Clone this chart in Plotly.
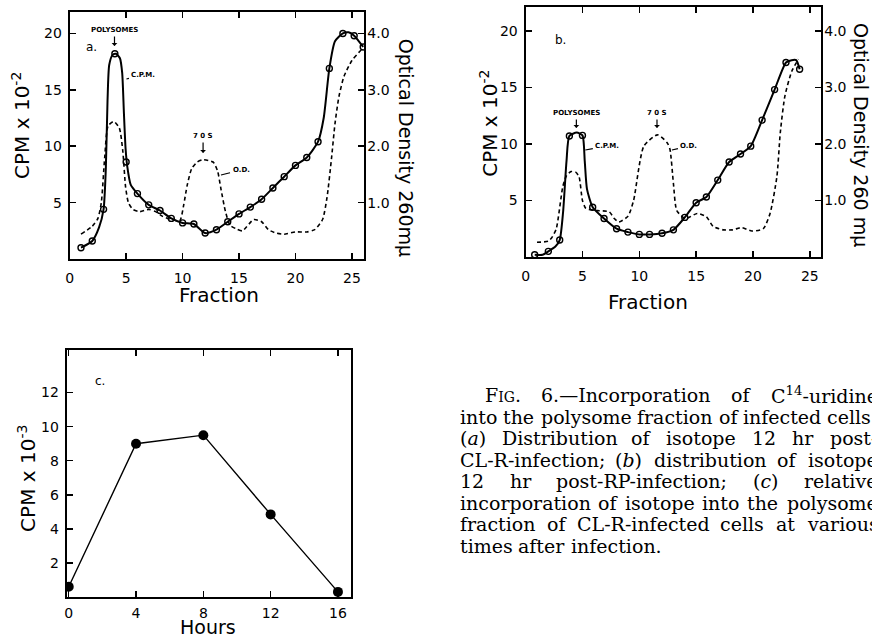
import plotly.graph_objects as go

W, H = 872, 636

# ---------------- data ----------------
# Panel a: CPM (x 10^-2) at fractions (markers)
frac_a = [1, 2, 3, 4, 5, 6, 7, 8, 9, 10, 11, 12, 13, 14, 15, 16, 17, 18, 19, 20, 21, 22, 23, 24.2, 25.2, 26]
cpm_a = [1.0, 1.6, 4.4, 18.2, 8.6, 5.8, 4.8, 4.3, 3.6, 3.2, 3.1, 2.3, 2.6, 3.3, 4.0, 4.6, 5.3, 6.3, 7.3, 8.3, 9.0, 10.4, 16.9, 20.0, 19.8, 18.8]
# Panel a: hand-drawn CPM curve
curve_a_x = [1, 2, 2.6, 3, 3.2, 3.35, 3.5, 3.8, 4.1, 4.45, 4.65, 4.8, 4.95, 5.1, 5.4, 6, 7, 8, 9, 10, 11, 12, 13, 14, 15, 16, 17, 18, 19, 20, 21, 22, 22.5, 23, 23.5, 24.2, 24.7, 25.2, 26]
curve_a_y = [1.0, 1.6, 2.8, 4.4, 8.0, 14.0, 17.2, 18.1, 18.2, 17.8, 16.5, 13.0, 9.8, 8.2, 6.6, 5.8, 4.8, 4.3, 3.6, 3.2, 3.1, 2.3, 2.6, 3.3, 4.0, 4.6, 5.3, 6.3, 7.3, 8.3, 9.0, 10.4, 12.5, 16.9, 19.3, 20.0, 20.1, 19.8, 18.8]
# Panel a: optical density (260 mu)
od_a_x = [1, 2, 2.5, 2.8, 3.1, 3.4, 3.9, 4.4, 4.7, 4.95, 5.2, 5.6, 6.2, 7.0, 7.6, 8.2, 9.0, 9.75, 10.1, 10.4, 10.8, 11.3, 11.8, 12.7, 13.1, 13.4, 13.8, 14.2, 14.7, 15.3, 16.3, 17.0, 17.6, 18.3, 19.0, 20.0, 21.0, 21.7, 22.4, 22.8, 23.2, 23.5, 23.85, 24.3, 25.0, 25.6, 26.0]
od_a = [0.44, 0.58, 0.72, 1.00, 1.80, 2.36, 2.44, 2.32, 1.92, 1.28, 1.00, 0.88, 0.84, 0.88, 0.84, 0.76, 0.70, 0.68, 0.96, 1.30, 1.60, 1.72, 1.76, 1.72, 1.56, 1.24, 0.84, 0.60, 0.54, 0.50, 0.70, 0.66, 0.52, 0.46, 0.44, 0.48, 0.48, 0.52, 0.70, 1.10, 1.80, 2.40, 2.88, 3.24, 3.52, 3.66, 3.74]

# Panel b
frac_b = [0.8, 2, 3, 3.85, 5, 5.9, 6.9, 8, 9, 10, 10.9, 12, 13, 14, 15, 15.9, 16.9, 17.9, 18.9, 19.8, 20.8, 21.9, 22.9, 24.1]
cpm_b = [0.2, 0.5, 1.5, 10.7, 10.75, 4.4, 3.4, 2.5, 2.2, 2.0, 2.0, 2.1, 2.4, 3.5, 4.8, 5.3, 6.8, 8.4, 9.1, 9.8, 12.1, 14.8, 17.2, 16.6]
curve_b_x = [0.8, 1.5, 2, 2.6, 3, 3.3, 3.6, 3.85, 4.5, 5, 5.2, 5.4, 5.9, 6.9, 8, 9, 10, 10.9, 12, 13, 14, 15, 15.9, 16.9, 17.9, 18.9, 19.8, 20.8, 21.9, 22.9, 23.4, 23.8, 24.1]
curve_b_y = [0.2, 0.2, 0.5, 0.9, 1.5, 4.0, 8.5, 10.7, 11.0, 10.75, 8.5, 6.0, 4.4, 3.4, 2.5, 2.2, 2.0, 2.0, 2.1, 2.4, 3.5, 4.8, 5.3, 6.8, 8.4, 9.1, 9.8, 12.1, 14.8, 17.2, 17.4, 17.4, 16.6]
od_b_x = [1, 2, 2.3, 2.7, 3.27, 3.6, 4.0, 4.4, 4.7, 5.0, 5.3, 6.3, 7.35, 7.8, 8.2, 9.0, 9.5, 10.4, 11.6, 12.45, 12.7, 13.0, 13.3, 14.05, 15.1, 15.9, 16.5, 17.4, 18.2, 19.0, 19.9, 20.9, 21.5, 22.1, 22.4, 22.8, 23.4, 24.0]
od_b = [0.26, 0.28, 0.34, 0.50, 1.24, 1.44, 1.51, 1.50, 1.42, 1.00, 0.86, 0.82, 0.80, 0.68, 0.62, 0.72, 1.00, 1.96, 2.16, 2.02, 1.90, 1.30, 0.82, 0.68, 0.77, 0.71, 0.54, 0.48, 0.48, 0.52, 0.46, 0.50, 0.77, 1.42, 2.20, 2.84, 3.28, 3.50]

# Panel c
hours_c = [0, 4, 8, 12, 16]
cpm_c = [0.6, 9.0, 9.5, 4.85, 0.3]

ticks_frac = [0, 5, 10, 15, 20, 25]
ticks_cpm = [5, 10, 15, 20]
ticks_od = [1, 2, 3, 4]
ticks_od_text = ["1.0", "2.0", "3.0", "4.0"]
ticks_hours = [0, 4, 8, 12, 16]
ticks_cpm_c = [2, 4, 6, 8, 10, 12]

# ---------------- figure ----------------
SANS = "DejaVu Sans"
SERIF = "DejaVu Serif"
fig = go.Figure()

open_marker = dict(symbol="circle-open", size=6, color="black", line=dict(width=1.4, color="black"))

# panel a
fig.add_trace(go.Scatter(x=od_a_x, y=od_a, mode="lines", xaxis="x", yaxis="y2",
                         line=dict(color="black", width=1.6, dash="4px,3px", shape="spline", smoothing=0.6)))
fig.add_trace(go.Scatter(x=curve_a_x, y=curve_a_y, mode="lines", xaxis="x", yaxis="y",
                         line=dict(color="black", width=2, shape="spline", smoothing=0.6)))
fig.add_trace(go.Scatter(x=frac_a, y=cpm_a, mode="markers", xaxis="x", yaxis="y", marker=open_marker))
# panel b
fig.add_trace(go.Scatter(x=od_b_x, y=od_b, mode="lines", xaxis="x2", yaxis="y4",
                         line=dict(color="black", width=1.6, dash="4px,3px", shape="spline", smoothing=0.6)))
fig.add_trace(go.Scatter(x=curve_b_x, y=curve_b_y, mode="lines", xaxis="x2", yaxis="y3",
                         line=dict(color="black", width=2, shape="spline", smoothing=0.6)))
fig.add_trace(go.Scatter(x=frac_b, y=cpm_b, mode="markers", xaxis="x2", yaxis="y3", marker=open_marker))
# panel c
fig.add_trace(go.Scatter(x=hours_c, y=cpm_c, mode="lines+markers", xaxis="x3", yaxis="y5",
                         line=dict(color="black", width=1.4),
                         marker=dict(symbol="circle", size=10, color="black")))

tickfont = dict(family=SANS, size=14, color="black")
common = dict(showline=True, linecolor="black", linewidth=2, ticks="inside", ticklen=6,
              tickwidth=1.5, tickcolor="black", showgrid=False, zeroline=False,
              tickfont=tickfont, fixedrange=True)

def px(xp):
    return xp / W

def py(yp):
    return 1 - yp / H

fig.update_layout(
    width=W, height=H, margin=dict(l=0, r=0, t=0, b=0, pad=0),
    paper_bgcolor="white", plot_bgcolor="white", showlegend=False,
    xaxis=dict(common, domain=[px(66), px(362)], range=[0, 26.1], tickvals=ticks_frac,
               mirror="ticks", anchor="y", ticklabelstandoff=5),
    yaxis=dict(common, domain=[py(259), py(12)], range=[0, 21.9], tickvals=ticks_cpm,
               mirror=True, anchor="x", ticklabelstandoff=3),
    yaxis2=dict(common, overlaying="y", side="right", anchor="x", range=[0, 4.38],
                tickvals=ticks_od, ticktext=ticks_od_text, showline=False, ticklabelstandoff=2),
    xaxis2=dict(common, domain=[px(524), px(821)], range=[0, 26.0], tickvals=ticks_frac,
                mirror="ticks", anchor="y3", ticklabelstandoff=5),
    yaxis3=dict(common, domain=[py(257), py(7)], range=[0, 22.1], tickvals=ticks_cpm,
                mirror=True, anchor="x2", ticklabelstandoff=3),
    yaxis4=dict(common, overlaying="y3", side="right", anchor="x2", range=[0, 4.42],
                tickvals=ticks_od, ticktext=ticks_od_text, showline=False, ticklabelstandoff=2),
    xaxis3=dict(common, domain=[px(63), px(349)], range=[-0.12, 16.8], tickvals=ticks_hours,
                mirror="ticks", anchor="y5", ticklabelstandoff=2),
    yaxis5=dict(common, domain=[py(597), py(350)], range=[0, 14.5], tickvals=ticks_cpm_c,
                mirror=True, anchor="x3", ticklabelstandoff=3),
)

ann = []

def text(xp, yp, t, size=14, family=SANS, angle=0, xanchor="center", color="black"):
    ann.append(dict(x=px(xp), y=py(yp), xref="paper", yref="paper", text=t, showarrow=False,
                    textangle=angle, xanchor=xanchor, yanchor="middle", borderpad=0, borderwidth=0,
                    font=dict(family=family, size=size, color=color)))

def arrow_label(xt, yt, xp_, yp_, t, head=1, size=7):
    ann.append(dict(x=px(xp_), y=py(yp_), xref="paper", yref="paper", text="<b>%s</b>" % t,
                    showarrow=True, ax=xt - xp_, ay=yt - yp_, arrowhead=head, arrowsize=0.8,
                    arrowwidth=1.2, arrowcolor="black", standoff=0, startstandoff=1,
                    font=dict(family=SANS, size=size, color="black")))

# axis titles
text(17, 125, "CPM x 10<sup>-2</sup>", size=20, angle=-90)
text(404, 148, "Optical Density 260mμ", size=19, angle=90)
text(216, 295, "Fraction", size=20)
text(487, 123, "CPM x 10<sup>-2</sup>", size=20, angle=-90)
text(861, 135, "Optical Density 260 mμ", size=19, angle=90)
text(647, 302, "Fraction", size=20)
text(23, 478, "CPM x 10<sup>-3</sup>", size=20, angle=-90)
text(205, 627, "Hours", size=19)

# panel letters
text(88, 47, "a.", size=12)
text(559, 40, "b.", size=12)
text(96, 381, "c.", size=12)

# panel a labels
arrow_label(111, 30, 111, 46, "POLYSOMES")
arrow_label(140, 75, 123, 79, "C.P.M.", head=0)
arrow_label(200, 136, 200, 153, "7 0 S")
arrow_label(238, 170, 218, 175, "O.D.", head=0)
# panel b labels
arrow_label(575, 113, 575, 128, "POLYSOMES")
arrow_label(606, 146, 584, 150, "C.P.M.", head=0)
arrow_label(656, 113, 656, 128, "7 0 S")
arrow_label(688, 146, 671, 150, "O.D.", head=0)

# ---------------- caption (justified) ----------------
CS = 19
CW = {" ": 0.318, "a": 0.596, "b": 0.640, "c": 0.560, "d": 0.640, "e": 0.592, "f": 0.370,
      "g": 0.640, "h": 0.644, "i": 0.320, "l": 0.320, "m": 0.948, "n": 0.644, "o": 0.602,
      "p": 0.640, "r": 0.478, "s": 0.513, "t": 0.402, "u": 0.644, "v": 0.565, "y": 0.565,
      ".": 0.318, ";": 0.337, "-": 0.338, "(": 0.390, ")": 0.390, "—": 1.0,
      "C": 0.734, "L": 0.653, "R": 0.727, "F": 0.683, "I": 0.394, "G": 0.775, "P": 0.683}

def tw(s, size=CS):
    return sum(CW.get(ch, 0.636) for ch in s) * size

SC = 14  # small-caps size
W_FIG = tw("F") + (CW["I"] + CW["G"]) * SC + tw(".")
W_C14 = tw("C") + 2 * 0.636 * CS * 0.7 + tw("-uridine")

cap_lines = [
    (395.0, 483, True, [("F<span style='font-size:%dpx'>IG</span>." % SC, W_FIG),
                        ("6.—Incorporation", None), ("of", None),
                        ("C<sup>14</sup>-uridine", W_C14)]),
    (416.5, 458, True, [(w, None) for w in "into the polysome fraction of infected cells.".split(" ")]),
    (438.0, 458, True, [("(<i>a</i>)", tw("(a)")), ("Distribution", None), ("of", None), ("isotope", None),
                        ("12", None), ("hr", None), ("post-", None)]),
    (459.5, 458, True, [("CL-R-infection;", None), ("(<i>b</i>)", tw("(b)")), ("distribution", None),
                        ("of", None), ("isotope", None)]),
    (481.0, 458, True, [("12", None), ("hr", None), ("post-RP-infection;", None),
                        ("(<i>c</i>)", tw("(c)")), ("relative", None)]),
    (502.5, 458, True, [(w, None) for w in "incorporation of isotope into the polysome".split(" ")]),
    (524.0, 458, True, [(w, None) for w in "fraction of CL-R-infected cells at various".split(" ")]),
    (545.5, 458, False, [(w, None) for w in "times after infection.".split(" ")]),
]
RIGHT = 877
for yy, left, justify, words in cap_lines:
    widths = [w if w is not None else tw(h) for h, w in words]
    if justify and len(words) > 1:
        gap = (RIGHT - left - sum(widths)) / (len(words) - 1)
        gap = max(gap, tw(" "))
    else:
        gap = tw(" ")
    x = left
    for (h, _), wd in zip(words, widths):
        text(x, yy, h, size=CS, family=SERIF, xanchor="left")
        x += wd + gap

fig.update_layout(annotations=ann)
fig.write_html("out.html", config={"displayModeBar": False, "staticPlot": True},
               post_script="document.body.style.margin='0';document.body.style.overflow='hidden';")
